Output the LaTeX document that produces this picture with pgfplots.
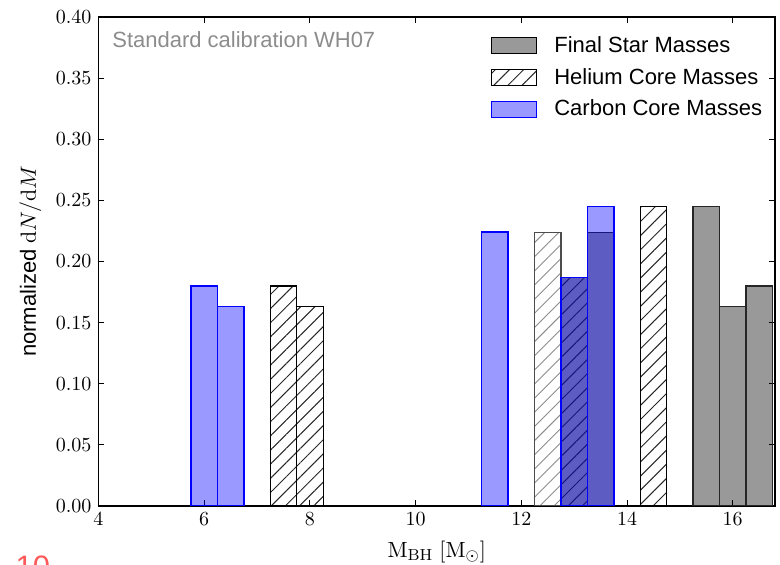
\documentclass[border=0pt]{standalone}
\usepackage{pgfplots}
\pgfplotsset{compat=1.18}
\usepackage[no-math]{fontspec}
\setmainfont{Liberation Sans}
\usetikzlibrary{patterns,patterns.meta}
\definecolor{labgray}{HTML}{8C8C8C}
\definecolor{figred}{HTML}{FF5A5A}
\begin{document}
\begin{tikzpicture}
\useasboundingbox (-49.25pt,-29.5pt) rectangle (340.75pt,253pt);
\begin{axis}[
  scale only axis, width=338.25pt, height=244.5pt,
  xmin=4, xmax=16.8, ymin=0, ymax=0.40,
  xtick={4,6,8,10,12,14,16},
  ytick={0,0.05,0.10,0.15,0.20,0.25,0.30,0.35,0.40},
  yticklabel style={/pgf/number format/fixed, /pgf/number format/fixed zerofill, /pgf/number format/precision=2},
  tick align=inside, tick pos=both,
  major tick length=3pt,
  tick style={black, line width=0.5pt},
  axis line style={line width=0.6pt},
  ticklabel style={font=\fontsize{10}{12}\selectfont},
  xlabel={$\mathrm{M_{BH}\ [M_\odot]}$},
  ylabel={normalized $\mathrm{d}N/\mathrm{d}M$},
  label style={font=\fontsize{11}{13}\selectfont},
  xlabel style={at={(axis description cs:0.5,0)}, anchor=north, yshift=-14pt},
  ylabel style={at={(axis description cs:0,0.5)}, anchor=south, yshift=25pt},
  legend cell align=left,
  legend image code/.code={\draw[#1] (0pt,-4pt) rectangle (22.5pt,4pt);},
  legend style={draw=none, fill=none, at={(0.5705,0.978)}, anchor=north west,
    font=\fontsize{11}{13}\selectfont, row sep=2.5pt,
    /tikz/every odd column/.append style={column sep=6.5pt}},
]
% Final star masses
\addplot[ybar, bar width=0.5, fill=black, fill opacity=0.4, draw=black!85, draw opacity=1, line width=0.6pt,
  legend image code/.code={\fill[black, fill opacity=0.4] (0pt,-4pt) rectangle (22.5pt,4pt);}]
  coordinates {(13.0,0.187) (13.5,0.224) (15.5,0.245) (16.0,0.163) (16.5,0.180)};
\addlegendentry{Final Star Masses}
% Helium core masses
\addplot[ybar, bar width=0.5, pattern={Lines[angle=45, distance=5pt, line width=0.5pt]}, pattern color=black!85, draw=black, line width=0.6pt]
  coordinates {(7.5,0.180) (8.0,0.163) (13.0,0.187) (14.5,0.245)};
\addlegendentry{Helium Core Masses}
\addplot[forget plot, ybar, bar width=0.5, pattern={Lines[angle=45, distance=5pt, line width=0.45pt]}, pattern color=black!45, draw=black!70, line width=0.6pt]
  coordinates {(12.5,0.224)};
% Carbon core masses
\addplot[ybar, bar width=0.5, fill=blue, fill opacity=0.4, draw=blue, draw opacity=1, line width=0.75pt,
  legend image code/.code={\fill[blue, fill opacity=0.4] (0pt,-4pt) rectangle (22.5pt,4pt);}]
  coordinates {(6.0,0.180) (6.5,0.163) (11.5,0.224) (13.0,0.187) (13.5,0.245)};
\addlegendentry{Carbon Core Masses}
\node[anchor=base west, text=labgray, font=\fontsize{11}{13}\selectfont] at ([xshift=3.4pt,yshift=-15.5pt]rel axis cs:0,1) {Standard calibration WH07};
\end{axis}
\node[anchor=base west, text=figred, font=\fontsize{15.5}{18}\selectfont] at (-45pt,-35.6pt) {10};
\end{tikzpicture}
\end{document}
